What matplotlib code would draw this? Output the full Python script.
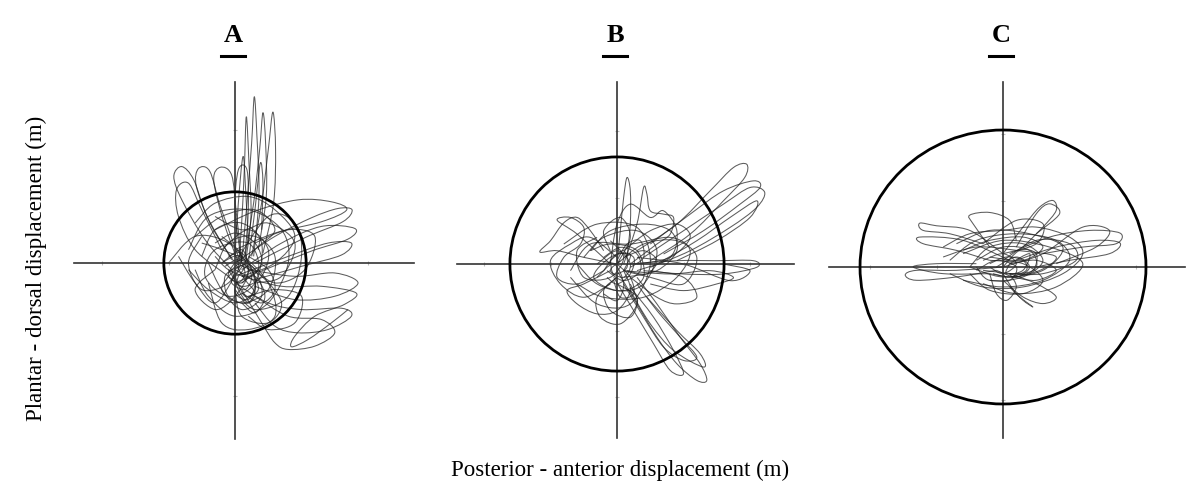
import matplotlib
matplotlib.use("Agg")
import matplotlib.pyplot as plt
from matplotlib.patches import Ellipse, PathPatch
from matplotlib.path import Path
from matplotlib.lines import Line2D

plt.rcParams['font.family'] = ['Liberation Serif', 'DejaVu Serif']

# --- Data (displacement units) ---
panel_labels = ['A', 'B', 'C']

# reference ellipse radii (x, y) for each panel
radius_A = (1.07, 1.07)
radius_B = (1.61, 1.61)
radius_C = (2.15, 2.06)

# trajectories, panel A
traces_A = [
    # tall spikes going up
    [(0.05, -0.1), (0.10, 0.6), (0.14, 1.4), (0.17, 2.2), (0.21, 1.5), (0.24, 0.7), (0.15, -0.05)],
    [(0.10, 0.0), (0.18, 0.9), (0.25, 1.8), (0.29, 2.5), (0.33, 1.9), (0.36, 1.0), (0.28, 0.1)],
    [(0.15, 0.1), (0.28, 0.9), (0.37, 1.7), (0.42, 2.26), (0.46, 1.8), (0.47, 1.0), (0.35, 0.2)],
    [(0.25, 0.1), (0.40, 0.9), (0.50, 1.7), (0.57, 2.27), (0.61, 1.7), (0.58, 0.9), (0.42, 0.15)],
    [(0.0, 0.1), (0.05, 0.9), (0.12, 1.6), (0.16, 1.1), (0.2, 0.3)],
    [(0.2, 0.0), (0.3, 0.8), (0.38, 1.5), (0.42, 1.2), (0.4, 0.5)],
    # arches to the upper left
    [(-0.05, -0.1), (-0.45, 0.35), (-0.8, 0.95), (-0.92, 1.3), (-0.8, 1.45), (-0.62, 1.25), (-0.42, 0.7), (-0.05, 0.05)],
    [(0.0, 0.0), (-0.35, 0.55), (-0.58, 1.15), (-0.55, 1.42), (-0.38, 1.38), (-0.22, 0.85), (0.05, 0.1)],
    [(0.05, 0.0), (-0.18, 0.65), (-0.32, 1.25), (-0.22, 1.44), (-0.05, 1.32), (0.02, 0.75), (0.1, 0.05)],
    [(-0.1, -0.2), (-0.6, 0.2), (-0.85, 0.7), (-0.88, 1.1), (-0.7, 1.2), (-0.5, 0.8), (-0.2, 0.2)],
    [(0.1, 0.0), (0.0, 0.8), (0.05, 1.4), (0.18, 1.4), (0.2, 0.8), (0.15, 0.1)],
    # loops to the upper right
    [(0.0, 0.0), (0.6, 0.4), (1.15, 0.68), (1.55, 0.82), (1.76, 0.8), (1.62, 0.62), (1.05, 0.38), (0.3, 0.0)],
    [(0.1, -0.1), (0.7, 0.3), (1.3, 0.55), (1.8, 0.52), (1.7, 0.36), (1.15, 0.18), (0.4, -0.12)],
    [(-0.3, 0.5), (0.3, 0.78), (0.95, 0.95), (1.45, 0.92), (1.68, 0.8), (1.3, 0.62), (0.6, 0.45), (0.0, 0.2)],
    [(0.0, -0.2), (0.8, 0.1), (1.4, 0.3), (1.75, 0.3), (1.6, 0.12), (1.0, -0.05), (0.3, -0.25)],
    # loops to the lower right
    [(0.1, -0.2), (0.7, -0.35), (1.3, -0.35), (1.82, -0.45), (1.65, -0.62), (1.2, -0.8), (0.9, -1.1),
     (0.85, -1.26), (1.1, -1.15), (1.45, -0.9), (1.7, -0.7)],
    [(0.0, -0.3), (0.5, -0.6), (1.0, -0.7), (1.6, -0.68), (1.75, -0.8), (1.4, -1.0), (0.95, -1.05), (0.6, -0.95), (0.3, -0.6)],
    [(0.1, -0.4), (0.4, -0.9), (0.6, -1.2), (0.8, -1.3), (1.2, -1.25), (1.5, -1.05), (1.3, -0.85), (0.8, -0.8), (0.3, -0.5)],
    [(0.2, -0.1), (0.9, -0.2), (1.5, -0.15), (1.85, -0.3), (1.5, -0.5), (0.9, -0.55), (0.3, -0.35)],
    [(0.2, -0.5), (0.6, -0.4), (1.0, -0.5), (0.9, -0.9), (0.5, -1.0), (0.2, -0.8)],
    [(0.3, 0.3), (0.8, 0.5), (1.2, 0.4), (1.05, -0.1), (0.6, -0.3), (0.2, 0.0)],
    # dense core
    [(-0.5, 0.1), (-0.3, 0.5), (0.1, 0.6), (0.4, 0.3), (0.3, -0.3), (-0.1, -0.5), (-0.45, -0.2), (-0.3, 0.2),
     (0.2, 0.3), (0.35, -0.1), (0.0, -0.3)],
    [(-0.7, 0.2), (-0.4, 0.7), (0.2, 0.8), (0.7, 0.5), (0.8, 0.0), (0.5, -0.6), (0.0, -0.8), (-0.4, -0.5), (-0.6, -0.1)],
    [(-0.3, -0.1), (-0.1, 0.3), (0.3, 0.4), (0.6, 0.1), (0.5, -0.4), (0.1, -0.6), (-0.2, -0.4), (0.0, -0.1), (0.2, 0.0)],
    [(-1.0, 0.0), (-0.6, 0.4), (-0.1, 0.3), (0.2, -0.1), (0.0, -0.5), (-0.3, -0.7), (-0.6, -0.4), (-0.3, -0.1)],
    [(0.0, 0.0), (0.5, 0.7), (0.9, 0.6), (1.0, 0.1), (0.8, -0.5), (0.3, -0.7), (0.0, -0.4)],
    [(-0.4, -0.3), (-0.2, -0.9), (0.2, -1.0), (0.6, -0.8), (0.5, -0.3), (0.1, 0.1), (-0.2, 0.0)],
    [(-0.2, 0.0), (0.1, 0.2), (0.2, -0.1), (0.1, -0.3), (-0.1, -0.2), (0.0, 0.0), (0.15, 0.05)],
    [(-0.85, 0.1), (-0.6, -0.3), (-0.3, -0.6), (0.0, -0.2), (0.3, 0.2), (0.6, 0.5), (0.3, 0.8), (-0.2, 0.7), (-0.6, 0.4)],
    [(-0.6, 0.6), (-0.3, 0.9), (0.2, 1.0), (0.6, 0.8), (0.9, 0.4), (0.6, 0.0), (0.1, -0.2)],
    [(-0.4, 0.0), (-0.2, -0.4), (0.1, -0.7), (0.4, -0.5), (0.3, -0.1), (0.0, 0.1)],
    [(-0.2, 0.2), (0.2, 0.5), (0.5, 0.2), (0.4, -0.2), (0.1, -0.35), (-0.1, -0.1)],
    [(0.0, -0.1), (0.3, -0.3), (0.2, -0.6), (-0.1, -0.5), (-0.15, -0.2), (0.05, -0.05)],
    [(-0.7, -0.1), (-0.4, -0.4), (0.0, -0.6), (0.3, -0.4), (0.2, 0.0), (-0.2, 0.2), (-0.5, 0.3)],
    [(0.0, 0.0), (0.4, -0.2), (0.7, -0.6), (0.5, -0.9), (0.1, -0.8), (0.0, -0.4)],
    [(-0.3, 0.7), (0.1, 0.5), (0.5, 0.6), (0.9, 0.3), (0.7, -0.2), (0.3, -0.3)],
    [(-0.1, -0.15), (0.1, 0.0), (0.25, -0.2), (0.15, -0.4), (-0.05, -0.3), (0.0, -0.15)],
    [(0.05, -0.2), (0.2, -0.05), (0.3, -0.3), (0.2, -0.55), (0.0, -0.45), (0.05, -0.2)],
    [(-0.5, 0.4), (-0.7, 0.0), (-0.5, -0.4), (-0.1, -0.3), (0.1, 0.1), (-0.2, 0.4)],
    [(0.0, 0.0), (0.15, -0.25), (0.3, -0.45), (0.2, -0.6), (0.05, -0.4), (-0.05, -0.1)],
    [(-0.1, 0.1), (0.1, 0.15), (0.25, -0.1), (0.35, -0.4), (0.15, -0.5), (0.0, -0.2)],
    [(0.1, -0.3), (0.3, -0.2), (0.45, -0.5), (0.3, -0.75), (0.1, -0.6)],
    [(-0.3, 0.3), (0.0, 0.45), (0.3, 0.3), (0.4, 0.0), (0.2, -0.2), (-0.1, -0.1), (-0.3, 0.1)],
    [(-0.15, -0.05), (0.05, 0.05), (0.15, -0.15), (0.05, -0.3), (-0.1, -0.2)],
    [(0.2, 0.1), (0.5, -0.1), (0.6, -0.4), (0.4, -0.6), (0.1, -0.45)],
]

# trajectories, panel B
traces_B = [
    # long loops to the upper right
    [(0.3, 0.2), (0.9, 0.6), (1.4, 1.1), (1.75, 1.45), (1.95, 1.5), (1.92, 1.3), (1.6, 0.95), (1.1, 0.45), (0.5, 0.05)],
    [(0.4, 0.1), (1.0, 0.5), (1.6, 0.9), (2.0, 1.15), (2.22, 1.08), (2.1, 0.85), (1.7, 0.55), (1.1, 0.2), (0.5, -0.05)],
    [(0.5, 0.3), (1.1, 0.75), (1.6, 1.1), (2.05, 1.25), (2.15, 1.15), (1.85, 0.9), (1.3, 0.5), (0.7, 0.15)],
    [(0.6, 0.0), (1.2, 0.35), (1.7, 0.7), (2.1, 0.95), (2.0, 0.7), (1.5, 0.35), (0.9, 0.05)],
    # tail to the lower right
    [(0.0, -0.1), (0.3, -0.6), (0.6, -1.1), (0.9, -1.5), (1.2, -1.75), (1.35, -1.75), (1.25, -1.5), (0.95, -1.1), (0.6, -0.6), (0.3, -0.2)],
    [(0.1, -0.3), (0.4, -0.8), (0.7, -1.25), (1.0, -1.45), (1.2, -1.4), (0.95, -1.1), (0.6, -0.7), (0.3, -0.3)],
    [(-0.05, -0.2), (0.25, -0.7), (0.55, -1.2), (0.8, -1.6), (1.0, -1.65), (0.85, -1.3), (0.55, -0.8), (0.2, -0.35)],
    [(0.2, -0.4), (0.5, -0.9), (0.85, -1.3), (1.3, -1.55), (1.25, -1.35), (0.9, -1.0), (0.45, -0.5)],
    # loops to the right
    [(0.2, 0.0), (0.9, 0.05), (1.5, 0.05), (2.05, 0.05), (2.1, -0.05), (1.6, -0.15), (1.0, -0.15), (0.4, -0.1)],
    [(0.1, -0.1), (0.8, -0.15), (1.4, -0.1), (1.75, -0.2), (1.5, -0.3), (1.0, -0.4), (0.5, -0.3)],
    [(0.3, 0.1), (1.0, 0.0), (1.7, -0.25), (2.0, -0.1), (1.6, 0.0)],
    [(0.2, -0.2), (0.6, -0.5), (0.9, -0.6), (1.2, -0.5), (1.0, -0.2), (0.5, -0.1)],
    # upward wiggles
    [(0.0, 0.0), (0.05, 0.5), (0.1, 1.0), (0.15, 1.3), (0.2, 1.1), (0.2, 0.6), (0.15, 0.1)],
    [(0.1, 0.0), (0.3, 0.6), (0.4, 1.15), (0.45, 1.05), (0.5, 0.8), (0.7, 0.75), (0.85, 0.7), (0.8, 0.45), (0.6, 0.3), (0.2, 0.0)],
    [(-0.1, 0.0), (0.0, 0.6), (0.2, 0.9), (0.5, 0.7), (0.7, 0.8), (0.9, 0.5), (0.8, 0.1), (0.3, -0.1)],
    [(0.0, 0.0), (0.2, 0.4), (0.05, 0.7), (-0.2, 0.5), (-0.1, 0.2)],
    # loops to the left
    [(0.0, 0.0), (-0.5, 0.1), (-0.9, 0.2), (-1.16, 0.18), (-1.0, 0.35), (-0.8, 0.62), (-0.6, 0.7), (-0.4, 0.5), (-0.2, 0.2)],
    [(-0.1, 0.0), (-0.6, 0.45), (-0.9, 0.66), (-0.7, 0.7), (-0.5, 0.55), (-0.55, 0.3), (-0.8, 0.1), (-0.9, -0.2), (-0.6, -0.3), (-0.2, -0.1)],
    [(0.0, 0.1), (-0.4, 0.4), (-0.7, 0.3), (-1.0, 0.05), (-0.85, -0.3), (-0.5, -0.5), (-0.1, -0.3)],
    [(-0.1, -0.1), (-0.5, -0.3), (-0.75, -0.4), (-0.6, -0.6), (-0.3, -0.75), (0.0, -0.7), (0.2, -0.4), (0.1, -0.1)],
    [(0.0, -0.2), (-0.3, -0.5), (-0.25, -0.8), (0.05, -0.9), (0.3, -0.6), (0.2, -0.3)],
    # dense core
    [(-0.5, 0.1), (-0.2, 0.4), (0.3, 0.5), (0.6, 0.2), (0.4, -0.3), (0.0, -0.4), (-0.35, -0.2), (-0.1, 0.1), (0.2, 0.15), (0.1, -0.1)],
    [(-0.7, -0.1), (-0.4, 0.3), (0.2, 0.3), (0.8, 0.4), (1.1, 0.2), (0.9, -0.2), (0.4, -0.5), (-0.2, -0.5), (-0.6, -0.3)],
    [(-0.3, 0.0), (0.0, 0.2), (0.2, 0.0), (0.1, -0.2), (-0.1, -0.1), (0.05, 0.05)],
    [(0.0, 0.0), (0.4, 0.3), (0.9, 0.35), (1.2, 0.1), (1.0, -0.3), (0.5, -0.2), (0.1, -0.1)],
    [(-0.8, 0.3), (-0.3, 0.6), (0.3, 0.55), (0.5, 0.0), (0.2, -0.6), (-0.3, -0.6), (-0.7, -0.2)],
    [(-0.4, 0.2), (-0.1, 0.5), (0.4, 0.6), (0.8, 0.5), (0.9, 0.2), (0.6, -0.1), (0.1, -0.2)],
    [(-0.2, -0.1), (0.0, 0.15), (0.25, 0.1), (0.2, -0.15), (0.0, -0.3), (-0.15, -0.2)],
    [(0.0, -0.3), (0.3, -0.5), (0.2, -0.8), (-0.1, -0.7), (-0.2, -0.4), (0.0, -0.2)],
    [(-0.6, 0.0), (-0.3, -0.3), (0.1, -0.4), (0.4, -0.2), (0.3, 0.2), (-0.1, 0.3), (-0.4, 0.2)],
    [(0.1, 0.2), (0.5, 0.5), (0.9, 0.6), (1.1, 0.4), (0.8, 0.1), (0.3, 0.0)],
    [(-0.3, 0.4), (-0.6, 0.2), (-0.5, -0.2), (-0.1, -0.2), (0.1, 0.1), (-0.1, 0.35)],
    [(-0.1, 0.05), (0.1, 0.2), (0.15, -0.05), (-0.05, -0.15), (-0.1, 0.05)],
    [(0.0, 0.0), (0.2, -0.2), (0.25, -0.45), (0.05, -0.5), (-0.05, -0.25)],
    [(-0.2, 0.1), (0.05, 0.25), (0.3, 0.15), (0.35, -0.1), (0.1, -0.25), (-0.15, -0.1)],
    [(0.1, 0.1), (0.4, 0.2), (0.6, 0.05), (0.45, -0.15), (0.15, -0.1)],
    [(-0.3, -0.2), (-0.05, 0.0), (0.1, -0.3), (0.0, -0.55), (-0.2, -0.45)],
    [(0.0, 0.05), (0.15, 0.3), (0.35, 0.35), (0.4, 0.1), (0.2, -0.05)],
]

# trajectories, panel C
traces_C = [
    # long loops to the left
    [(0.0, 0.2), (-0.5, 0.55), (-1.0, 0.62), (-1.25, 0.66), (-1.2, 0.55), (-0.8, 0.5), (-0.3, 0.35)],
    [(0.1, 0.1), (-0.6, 0.4), (-1.25, 0.45), (-1.2, 0.35), (-0.7, 0.25), (-0.2, 0.1)],
    [(0.0, 0.0), (-0.7, -0.05), (-1.3, -0.05), (-1.47, -0.12), (-1.3, -0.2), (-0.7, -0.15), (-0.1, -0.05)],
    [(-0.2, -0.1), (-0.9, -0.1), (-1.35, 0.0), (-1.0, 0.05), (-0.4, 0.05)],
    # upward loops
    [(-0.2, 0.3), (-0.45, 0.65), (-0.5, 0.78), (-0.2, 0.82), (0.1, 0.7), (0.2, 0.4)],
    [(0.0, 0.2), (0.3, 0.6), (0.55, 0.9), (0.75, 1.0), (0.8, 0.85), (0.6, 0.6), (0.3, 0.3)],
    [(0.2, 0.3), (0.5, 0.8), (0.7, 0.95), (0.85, 0.8), (0.5, 0.5)],
    [(-0.3, 0.35), (0.2, 0.7), (0.6, 0.65), (0.5, 0.35), (0.0, 0.2)],
    # loops to the right
    [(0.1, 0.2), (0.7, 0.45), (1.3, 0.55), (1.76, 0.51), (1.7, 0.35), (1.2, 0.3), (0.6, 0.2)],
    [(0.2, 0.1), (0.8, 0.3), (1.4, 0.4), (1.76, 0.36), (1.6, 0.2), (1.0, 0.1), (0.5, 0.0)],
    [(0.0, 0.0), (0.6, 0.2), (1.2, 0.6), (1.6, 0.55), (1.4, 0.3), (0.8, 0.05)],
    # downward loops
    [(0.0, -0.1), (0.2, -0.4), (0.45, -0.6), (0.3, -0.5), (0.1, -0.3)],
    [(-0.2, -0.1), (-0.1, -0.4), (0.06, -0.5), (0.2, -0.3), (0.1, -0.1)],
    [(0.0, -0.2), (0.3, -0.45), (0.6, -0.55), (0.8, -0.45), (0.5, -0.25), (0.1, -0.1)],
    # dense core
    [(-0.8, 0.1), (-0.4, 0.4), (0.2, 0.5), (0.8, 0.4), (1.0, 0.1), (0.6, -0.2), (0.0, -0.3), (-0.6, -0.2)],
    [(-0.5, 0.0), (-0.2, 0.3), (0.3, 0.35), (0.6, 0.1), (0.3, -0.15), (-0.2, -0.2), (-0.4, 0.0)],
    [(-0.9, 0.3), (-0.5, 0.5), (0.0, 0.55), (0.5, 0.6), (1.0, 0.45), (1.2, 0.2), (0.9, -0.1), (0.3, -0.3), (-0.3, -0.3), (-0.8, -0.1)],
    [(-0.3, 0.1), (0.0, 0.2), (0.2, 0.05), (0.0, -0.1), (-0.2, 0.0)],
    [(-0.6, 0.2), (0.0, 0.4), (0.7, 0.3), (1.2, 0.05), (0.8, -0.3), (0.2, -0.4), (-0.3, -0.25)],
    [(-0.4, 0.1), (0.0, 0.3), (0.4, 0.25), (0.5, 0.0), (0.2, -0.15), (-0.2, -0.1)],
    [(-0.1, 0.0), (0.2, 0.15), (0.4, 0.0), (0.2, -0.15), (-0.1, -0.05)],
    [(-0.7, 0.35), (-0.2, 0.55), (0.4, 0.5), (0.9, 0.3), (0.6, -0.05), (0.0, -0.15), (-0.5, 0.0)],
    [(0.0, 0.1), (0.5, 0.4), (1.0, 0.35), (1.1, 0.1), (0.6, -0.1), (0.1, -0.1)],
    [(-0.5, -0.1), (-0.2, -0.35), (0.3, -0.4), (0.6, -0.2), (0.3, 0.05), (-0.2, 0.1)],
    [(-0.9, 0.15), (-0.4, 0.3), (0.2, 0.25), (0.8, 0.15), (0.4, -0.1), (-0.3, -0.05)],
    [(0.1, 0.05), (0.4, 0.2), (0.3, -0.05), (0.05, -0.1), (0.1, 0.05)],
    [(-0.2, 0.05), (0.05, 0.15), (0.3, 0.1), (0.35, -0.05), (0.1, -0.15), (-0.15, -0.1)],
    [(0.0, 0.0), (0.25, 0.25), (0.5, 0.2), (0.45, -0.05), (0.2, -0.1)],
    [(-0.4, -0.05), (-0.1, 0.1), (0.2, 0.0), (0.1, -0.2), (-0.2, -0.2)],
    [(-0.6, 0.25), (-0.2, 0.4), (0.3, 0.45), (0.6, 0.3), (0.3, 0.1), (-0.2, 0.15)],
    [(0.1, 0.05), (0.5, 0.1), (0.8, -0.05), (0.5, -0.2), (0.15, -0.15)],
]


def smooth_path(pts):
    # Catmull-Rom style cubic Bezier through every read-off point
    codes = [Path.MOVETO]
    verts = [pts[0]]
    n = len(pts)
    for i in range(n - 1):
        p0 = pts[max(i - 1, 0)]
        p1 = pts[i]
        p2 = pts[i + 1]
        p3 = pts[min(i + 2, n - 1)]
        c1 = (p1[0] + (p2[0] - p0[0]) / 6, p1[1] + (p2[1] - p0[1]) / 6)
        c2 = (p2[0] - (p3[0] - p1[0]) / 6, p2[1] - (p3[1] - p1[1]) / 6)
        verts += [c1, c2, p2]
        codes += [Path.CURVE4] * 3
    return Path(verts, codes)


# --- Layout: axes boxes in pixels (left, right, top, bottom) and where the axes cross ---
W, H = 1200, 494
SCALE = 66.5  # pixels per unit
boxes = [(74, 414, 82, 439, 235, 263),
         (457, 794, 82, 438, 617, 264),
         (829, 1185, 82, 438, 1003, 267)]

fig = plt.figure(figsize=(W / 100, H / 100), dpi=100)

for label, traces, rad, (l, r, t, b, cx, cy) in zip(panel_labels, [traces_A, traces_B, traces_C],
                                                   [radius_A, radius_B, radius_C], boxes):
    ax = fig.add_axes([l / W, (H - b) / H, (r - l) / W, (b - t) / H])
    ax.set_xlim((l - cx) / SCALE, (r - cx) / SCALE)
    ax.set_ylim((cy - b) / SCALE, (cy - t) / SCALE)
    ax.patch.set_alpha(0)

    for tr in traces:
        ax.add_patch(PathPatch(smooth_path(tr), fill=False, edgecolor='#1e1e1e', lw=0.75, alpha=0.72))

    ax.add_patch(Ellipse((0, 0), 2 * rad[0], 2 * rad[1], fill=False, color='black', lw=2.0, zorder=5))

    # axes crossing at zero
    for side in ['top', 'right']:
        ax.spines[side].set_visible(False)
    ax.spines['left'].set_position(('data', 0))
    ax.spines['bottom'].set_position(('data', 0))
    ax.spines['left'].set_color('#333333')
    ax.spines['bottom'].set_color('#333333')
    ax.spines['left'].set_linewidth(1.2)
    ax.spines['bottom'].set_linewidth(1.2)
    ax.set_xticks([-2, -1, 1, 2])
    ax.set_yticks([-2, -1, 1, 2])
    ax.set_xticklabels([])
    ax.set_yticklabels([])
    ax.tick_params(length=3, direction='inout', color='#bbbbbb', width=0.8)

    # panel letter, bold and underlined
    tx = cx - 2
    fig.text(tx / W, 1 - 36 / H, label, ha='center', va='center', fontsize=19, fontweight='bold')
    fig.add_artist(Line2D([(tx - 12) / W, (tx + 12) / W], [1 - 56 / H, 1 - 56 / H], color='black', lw=2.2))

fig.text(620 / W, 1 - 470 / H, 'Posterior - anterior displacement (m)', ha='center', va='center', fontsize=16.5)
fig.text(36 / W, 1 - 268 / H, 'Plantar - dorsal displacement (m)', ha='center', va='center',
         rotation=90, fontsize=16.5)

fig.savefig('out.png', dpi=100)
